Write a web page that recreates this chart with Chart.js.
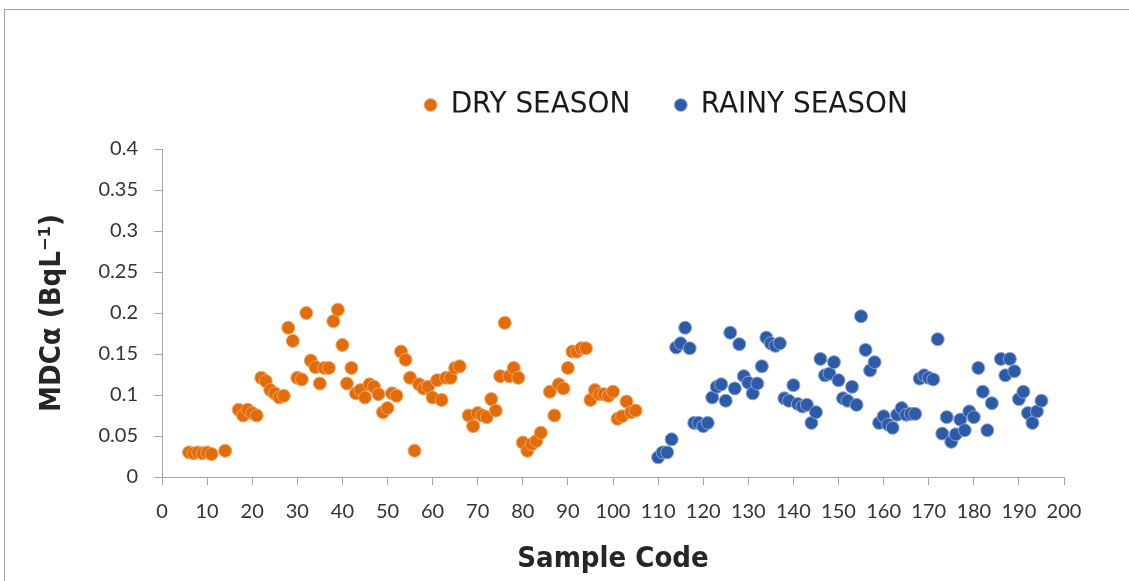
<!DOCTYPE html>
<html>
<head>
<meta charset="utf-8">
<script src="https://cdn.jsdelivr.net/npm/chart.js@4.4.1/dist/chart.umd.min.js"></script>
<style>
  html, body { margin: 0; padding: 0; background: #fff; overflow: hidden; }
  canvas { position: absolute; left: 0; top: 0; }
  #frame { position: absolute; left: 4px; top: 9px; width: 1300px; height: 800px; border: 1px solid #a3a3a3; pointer-events: none; }
</style>
</head>
<body>
<canvas id="chart" width="1129" height="581"></canvas>
<div id="frame"></div>
<script>
const seriesNames = ['DRY SEASON', 'RAINY SEASON'];

const dryCodes = [
  6, 7, 8, 9, 10, 11, 14, 17, 18, 19,
  20, 21, 22, 23, 24, 25, 26, 27, 28, 29,
  30, 31, 32, 33, 34, 35, 36, 37, 38, 39,
  40, 41, 42, 43, 44, 45, 46, 47, 48, 49,
  50, 51, 52, 53, 54, 55, 56, 57, 58, 59,
  60, 61, 62, 63, 64, 65, 66, 68, 69, 70,
  71, 72, 73, 74, 75, 76, 77, 78, 79, 80,
  81, 82, 83, 84, 86, 87, 88, 89, 90, 91,
  92, 93, 94, 95, 96, 97, 98, 99, 100, 101,
  102, 103, 104, 105
];
const dryValues = [
  0.030, 0.029, 0.030, 0.029, 0.030, 0.028, 0.032, 0.082, 0.075, 0.082,
  0.078, 0.075, 0.121, 0.117, 0.106, 0.102, 0.097, 0.099, 0.182, 0.166,
  0.121, 0.119, 0.200, 0.142, 0.134, 0.114, 0.133, 0.133, 0.190, 0.204,
  0.161, 0.114, 0.133, 0.102, 0.106, 0.097, 0.113, 0.110, 0.101, 0.079,
  0.084, 0.102, 0.099, 0.153, 0.143, 0.121, 0.032, 0.113, 0.108, 0.110,
  0.097, 0.118, 0.094, 0.121, 0.121, 0.133, 0.135, 0.075, 0.062, 0.078,
  0.075, 0.073, 0.095, 0.081, 0.123, 0.188, 0.123, 0.133, 0.121, 0.042,
  0.032, 0.040, 0.044, 0.054, 0.104, 0.075, 0.113, 0.108, 0.133, 0.153,
  0.153, 0.157, 0.157, 0.094, 0.106, 0.101, 0.101, 0.099, 0.104, 0.071,
  0.074, 0.092, 0.079, 0.081
];

const rainyCodes = [
  110, 111, 112, 113, 114, 115, 116, 117, 118, 119,
  120, 121, 122, 123, 124, 125, 126, 127, 128, 129,
  130, 131, 132, 133, 134, 135, 136, 137, 138, 139,
  140, 141, 142, 143, 144, 145, 146, 147, 148, 149,
  150, 151, 152, 153, 154, 155, 156, 157, 158, 159,
  160, 161, 162, 163, 164, 165, 166, 167, 168, 169,
  170, 171, 172, 173, 174, 175, 176, 177, 178, 179,
  180, 181, 182, 183, 184, 186, 187, 188, 189, 190,
  191, 192, 193, 194, 195
];
const rainyValues = [
  0.024, 0.030, 0.030, 0.046, 0.158, 0.163, 0.182, 0.157, 0.066, 0.066,
  0.062, 0.066, 0.097, 0.110, 0.113, 0.093, 0.176, 0.108, 0.162, 0.123,
  0.115, 0.102, 0.114, 0.135, 0.170, 0.163, 0.160, 0.163, 0.096, 0.093,
  0.112, 0.089, 0.086, 0.088, 0.066, 0.079, 0.144, 0.124, 0.126, 0.140,
  0.118, 0.096, 0.093, 0.110, 0.088, 0.196, 0.155, 0.130, 0.140, 0.066,
  0.074, 0.064, 0.060, 0.076, 0.084, 0.076, 0.077, 0.077, 0.120, 0.124,
  0.121, 0.119, 0.168, 0.053, 0.073, 0.043, 0.052, 0.070, 0.057, 0.080,
  0.073, 0.133, 0.104, 0.057, 0.090, 0.144, 0.124, 0.144, 0.129, 0.095,
  0.104, 0.078, 0.066, 0.080, 0.093
];

const xTicks = [0, 10, 20, 30, 40, 50, 60, 70, 80, 90, 100, 110, 120, 130, 140, 150, 160, 170, 180, 190, 200];
const yTicks = [0, 0.05, 0.1, 0.15, 0.2, 0.25, 0.3, 0.35, 0.4];
const yTickLabels = ['0', '0.05', '0.1', '0.15', '0.2', '0.25', '0.3', '0.35', '0.4'];

const xTitle = 'Sample Code';
const yTitle = 'MDCα (BqL⁻¹)';

const narrow = "'Liberation Sans Narrow', 'DejaVu Sans Condensed', 'Open Sans', sans-serif";
const tickFont = { family: "Lato, 'Open Sans', sans-serif", size: 20 };
const axisColor = '#a6a6a6';

const toPoints = (codes, values) => codes.map((c, i) => ({ x: c, y: values[i] }));

// move the legend to where it sits in the picture
const legendPos = { x: 667, y: 105 };
const legendMover = {
  id: 'legendMover',
  afterLayout(chart) {
    const lg = chart.legend;
    const labels = lg.options.labels;
    const dx = legendPos.x - (lg.left + lg.right) / 2;
    const dy = legendPos.y - (lg.top + labels.padding + labels.font.size / 2);
    lg.left += dx; lg.right += dx;
    lg.top += dy; lg.bottom += dy;
  }
};

new Chart(document.getElementById('chart'), {
  type: 'scatter',
  data: {
    datasets: [
      {
        label: seriesNames[0],
        data: toPoints(dryCodes, dryValues),
        backgroundColor: '#e26b0a',
        borderColor: '#f2a566',
        borderWidth: 1,
        pointRadius: 6.5,
      },
      {
        label: seriesNames[1],
        data: toPoints(rainyCodes, rainyValues),
        backgroundColor: '#2d5ba8',
        borderColor: '#8aa5d6',
        borderWidth: 1,
        pointRadius: 6.5,
      },
    ],
  },
  plugins: [legendMover],
  options: {
    responsive: false,
    animation: false,
    devicePixelRatio: 1,
    layout: { padding: { top: 80, right: 65, bottom: 0, left: 0 } },
    plugins: {
      tooltip: { enabled: false },
      legend: {
        position: 'top',
        maxHeight: 69,
        labels: {
          usePointStyle: true,
          pointStyle: 'circle',
          boxWidth: 9,
          boxHeight: 9,
          padding: 46,
          color: '#1a1a1a',
          font: { family: narrow, size: 31 },
        },
      },
    },
    scales: {
      x: {
        type: 'linear',
        min: 0,
        max: 200,
        afterFit(scale) { scale.height = 104; },
        afterBuildTicks(scale) { scale.ticks = xTicks.map(v => ({ value: v })); },
        border: { color: axisColor, width: 1 },
        grid: { drawOnChartArea: false, drawTicks: true, tickLength: 8, color: axisColor },
        ticks: { padding: 15, color: '#333', font: tickFont, maxRotation: 0, autoSkip: false },
        title: {
          display: true,
          text: xTitle,
          color: '#262626',
          font: { family: narrow, size: 29, weight: 'bold' },
          padding: { top: 0, bottom: 4 },
        },
      },
      y: {
        min: 0,
        max: 0.4,
        afterFit(scale) { scale.width = 162; },
        afterBuildTicks(scale) { scale.ticks = yTicks.map(v => ({ value: v })); },
        border: { color: axisColor, width: 1 },
        grid: { drawOnChartArea: false, drawTicks: true, tickLength: 8, color: axisColor },
        ticks: {
          padding: 16,
          color: '#333',
          font: tickFont,
          autoSkip: false,
          callback: (v, i) => yTickLabels[i],
        },
        title: {
          display: true,
          text: yTitle,
          color: '#262626',
          font: { family: narrow, size: 29, weight: 'bold' },
          padding: { top: 35, bottom: 0 },
        },
      },
    },
  },
});
</script>
</body>
</html>
